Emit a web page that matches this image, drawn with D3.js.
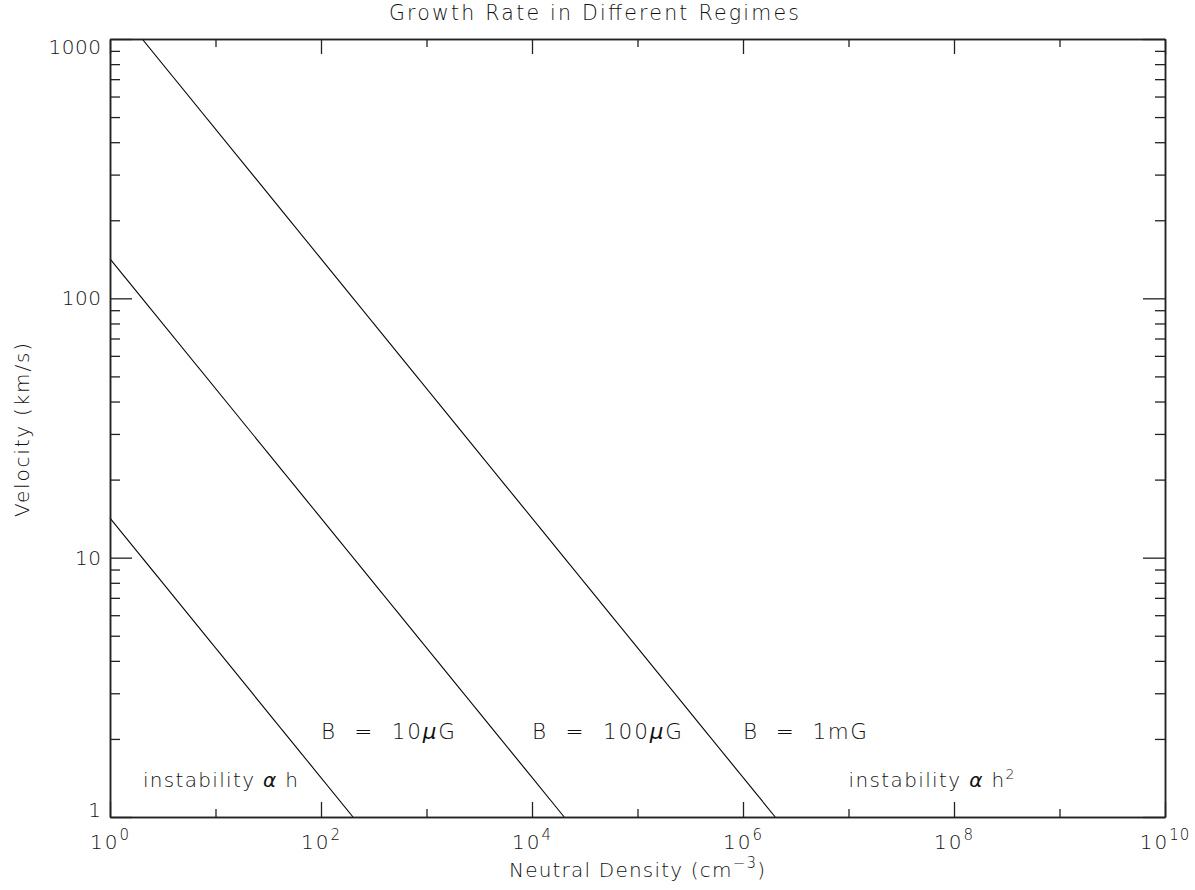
<!DOCTYPE html>
<html>
<head>
<meta charset="utf-8">
<script src="https://cdn.jsdelivr.net/npm/d3@7"></script>
<style>
  html, body { margin: 0; padding: 0; background: #fff; }
  svg { display: block; }
  text { font-family: "DejaVu Sans", sans-serif; font-weight: 200; fill: #111; }
</style>
</head>
<body>
<svg id="chart" width="1195" height="890"></svg>
<script>
// ---- data ----
const xDomain = [1, 1e10];
const yDomain = [1, 1000];
const xMajorTicks = [1, 1e2, 1e4, 1e6, 1e8, 1e10];
const xMajorExponents = ["0", "2", "4", "6", "8", "10"];
const xMinorTicks = [1e1, 1e3, 1e5, 1e7, 1e9];
const yMajorTicks = [1, 10, 100, 1000];
const yMajorLabels = ["1", "10", "100", "1000"];
const yMinorTicks = [2,3,4,5,6,7,8,9,20,30,40,50,60,70,80,90,200,300,400,500,600,700,800,900];

const seriesNames = ["B = 10µG", "B = 100µG", "B = 1mG"];
const density10uG = [1, 201];
const velocity10uG = [14.2, 1];
const density100uG = [1, 20200];
const velocity100uG = [142, 1];
const density1mG = [2.02, 2.02e6];
const velocity1mG = [1000, 1];

const fieldLabelX = [100, 1e4, 1e6];
const fieldLabelY = [2, 2, 2];
const regimeLabelX = [2.05, 1e7];
const regimeLabelY = [1.3, 1.3];

const titleText = "Growth Rate in Different Regimes";
const xTitle = "Neutral Density (cm";
const yTitle = "Velocity (km/s)";

// ---- layout ----
const svg = d3.select("#chart");
const L = 110, R = 1165, T = 39, B = 817;
const x = d3.scaleLog().domain(xDomain).range([L, R]);
const y = d3.scaleLog().domain(yDomain).range([B, T]);

// lines
const seriesData = [
  d3.zip(density10uG, velocity10uG),
  d3.zip(density100uG, velocity100uG),
  d3.zip(density1mG, velocity1mG)
];
const line = d3.line().x(d => x(d[0])).y(d => y(d[1]));
svg.append("g").selectAll("path").data(seriesData).join("path")
  .attr("d", line).attr("fill", "none").attr("stroke", "#000").attr("stroke-width", 1.1);

// axes (box with inward ticks)
const axisStroke = "#222";
function styleAxis(g) {
  g.select(".domain").attr("stroke", axisStroke).attr("stroke-width", 1.5);
  g.selectAll(".tick line").attr("stroke", axisStroke).attr("stroke-width", 1.3);
  g.selectAll(".tick text").remove();
}
svg.append("g").attr("transform", `translate(0,${B})`)
  .call(d3.axisBottom(x).tickValues(xMajorTicks).tickSizeInner(-15).tickSizeOuter(0).tickFormat(""))
  .call(styleAxis);
svg.append("g").attr("transform", `translate(0,${B})`)
  .call(d3.axisBottom(x).tickValues(xMinorTicks).tickSizeInner(-8).tickSizeOuter(0).tickFormat(""))
  .call(styleAxis);
svg.append("g").attr("transform", `translate(0,${T})`)
  .call(d3.axisTop(x).tickValues(xMajorTicks).tickSizeInner(-15).tickSizeOuter(0).tickFormat(""))
  .call(styleAxis);
svg.append("g").attr("transform", `translate(0,${T})`)
  .call(d3.axisTop(x).tickValues(xMinorTicks).tickSizeInner(-8).tickSizeOuter(0).tickFormat(""))
  .call(styleAxis);
svg.append("g").attr("transform", `translate(${L},0)`)
  .call(d3.axisLeft(y).tickValues(yMajorTicks).tickSizeInner(-22).tickSizeOuter(0).tickFormat(""))
  .call(styleAxis);
svg.append("g").attr("transform", `translate(${L},0)`)
  .call(d3.axisLeft(y).tickValues(yMinorTicks).tickSizeInner(-10).tickSizeOuter(0).tickFormat(""))
  .call(styleAxis);
svg.append("g").attr("transform", `translate(${R},0)`)
  .call(d3.axisRight(y).tickValues(yMajorTicks).tickSizeInner(-22).tickSizeOuter(0).tickFormat(""))
  .call(styleAxis);
svg.append("g").attr("transform", `translate(${R},0)`)
  .call(d3.axisRight(y).tickValues(yMinorTicks).tickSizeInner(-10).tickSizeOuter(0).tickFormat(""))
  .call(styleAxis);

// x tick labels 10^n
const xl = svg.append("g");
xMajorTicks.forEach((v, i) => {
  const t = xl.append("text").attr("x", x(v)).attr("y", 849)
    .attr("text-anchor", "middle").attr("font-size", 20).attr("letter-spacing", 2);
  t.append("tspan").text("10");
  t.append("tspan").attr("dy", -9).attr("font-size", 15).attr("letter-spacing", 1).text(xMajorExponents[i]);
});

// y tick labels (end labels kept inside axis range)
const yl = svg.append("g");
yMajorTicks.forEach((v, i) => {
  const c = Math.max(T + 8, Math.min(B - 7, y(v)));
  yl.append("text").attr("x", 101.5).attr("y", c + 7)
    .attr("text-anchor", "end").attr("font-size", 20).attr("letter-spacing", 0.5).text(yMajorLabels[i]);
});

// title
svg.append("text").attr("x", 594).attr("y", 20).attr("text-anchor", "middle")
  .attr("font-size", 20.5).attr("textLength", 410).attr("lengthAdjust", "spacing").text(titleText);

// x title
const xt = svg.append("text").attr("x", 509).attr("y", 877).attr("font-size", 20)
  .attr("textLength", 256).attr("lengthAdjust", "spacing");
xt.append("tspan").text(xTitle);
xt.append("tspan").attr("dy", -9).attr("font-size", 15).text("−3");
xt.append("tspan").attr("dy", 9).text(")");

// y title
svg.append("text").attr("transform", `translate(29,430) rotate(-90)`)
  .attr("text-anchor", "middle").attr("font-size", 20)
  .attr("textLength", 174).attr("lengthAdjust", "spacing").text(yTitle);

// field labels
const fieldWidths = [134, 150, 124];
seriesNames.forEach((s, i) => {
  const parts = s.split("µ");
  const t = svg.append("text").attr("x", x(fieldLabelX[i])).attr("y", y(fieldLabelY[i]))
    .attr("font-size", 21.5).attr("textLength", fieldWidths[i]).attr("lengthAdjust", "spacing")
    .attr("xml:space", "preserve");
  t.append("tspan").text(parts[0].replace(/ = /, "  =  "));
  if (parts.length > 1) {
    t.append("tspan").attr("font-style", "italic").attr("font-weight", 400).text("µ");
    t.append("tspan").text(parts[1]);
  }
});

// regime labels
const regimeWidths = [155, 166];
[0, 1].forEach(i => {
  const t = svg.append("text").attr("x", x(regimeLabelX[i])).attr("y", y(regimeLabelY[i]))
    .attr("font-size", 20).attr("textLength", regimeWidths[i]).attr("lengthAdjust", "spacing");
  t.append("tspan").text("instability ");
  t.append("tspan").attr("font-style", "italic").attr("font-weight", 400).text("α");
  t.append("tspan").text(" h");
  if (i === 1) t.append("tspan").attr("dy", -8).attr("font-size", 14).text("2");
});
</script>
</body>
</html>
